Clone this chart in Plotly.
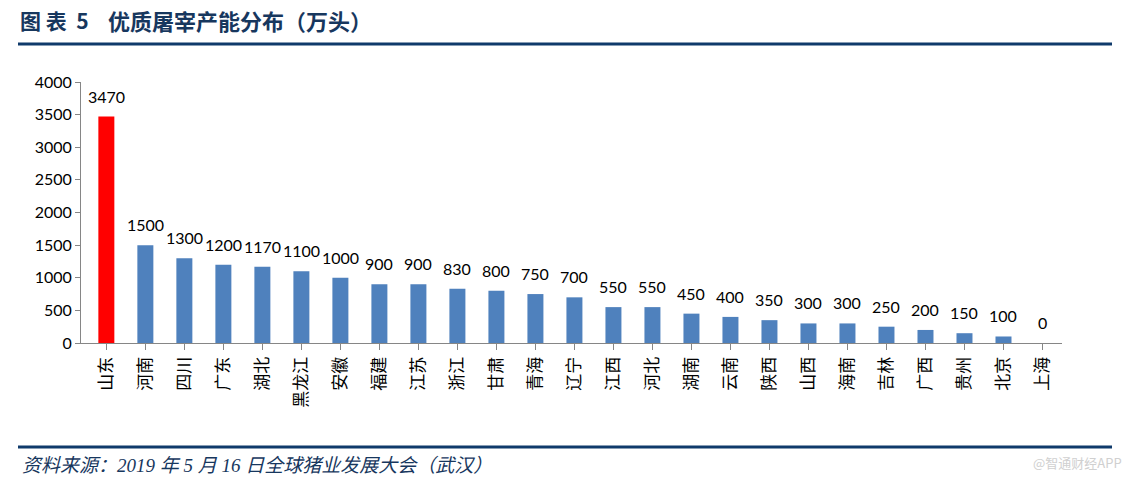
import plotly.graph_objects as go

provinces = ["山东", "河南", "四川", "广东", "湖北", "黑龙江", "安徽", "福建", "江苏", "浙江",
             "甘肃", "青海", "辽宁", "江西", "河北", "湖南", "云南", "陕西", "山西", "海南",
             "吉林", "广西", "贵州", "北京", "上海"]
capacity = [3470, 1500, 1300, 1200, 1170, 1100, 1000, 900, 900, 830,
            800, 750, 700, 550, 550, 450, 400, 350, 300, 300,
            250, 200, 150, 100, 0]
y_ticks = [0, 500, 1000, 1500, 2000, 2500, 3000, 3500, 4000]

title_prefix = "图&nbsp;表&nbsp;&nbsp;5"
title_text = "优质屠宰产能分布（万头）"
source_text = "资料来源：2019 年 5 月 16 日全球猪业发展大会（武汉）"
watermark = "@智通财经APP"

colors = ["#FF0000" if i == 0 else "#4F81BD" for i in range(len(provinces))]

L, R, T, B = 81, 1062, 82, 343
PW, PH = R - L, B - T

def px(x):
    return (x - L) / PW

def py(y):
    return (B - y) / PH

xs = list(range(len(provinces)))

fig = go.Figure()
fig.add_trace(go.Bar(
    x=xs, y=capacity,
    marker=dict(color=colors, line=dict(width=0)),
    cliponaxis=False,
))

for xi, v in zip(xs, capacity):
    fig.add_annotation(
        x=xi, y=v, xref="x", yref="y", text=str(v), showarrow=False,
        xanchor="center", yanchor="bottom", yshift=9,
        font=dict(family="Lato, Open Sans, sans-serif", size=16, color="#000000"),
    )

fig.update_layout(
    width=1133, height=481,
    margin=dict(l=L, r=1133 - R, t=T, b=481 - B),
    paper_bgcolor="white", plot_bgcolor="white",
    bargap=0.59, showlegend=False,
    font=dict(family="Lato, Noto Sans CJK SC, sans-serif", color="#000000"),
    xaxis=dict(
        range=[-0.65, 24.5], automargin=False,
        tickmode="array", tickvals=xs, ticktext=provinces,
        tickangle=-90, tickson="boundaries",
        tickfont=dict(family="Noto Sans CJK SC", size=17, color="#000000"),
        showline=True, linecolor="#868686", linewidth=1,
        ticks="outside", ticklen=6, tickcolor="#868686",
        showgrid=False, zeroline=False,
    ),
    yaxis=dict(
        range=[0, 4000], tickvals=y_ticks, automargin=False,
        tickfont=dict(family="Lato, Open Sans, sans-serif", size=16, color="#000000"),
        showline=True, linecolor="#868686", linewidth=1,
        ticks="outside", ticklen=5, tickcolor="#868686",
        showgrid=False, zeroline=False,
    ),
)

fig.add_annotation(
    text="<b>" + title_prefix + "</b>", xref="paper", yref="paper",
    x=px(18), y=py(20), xanchor="left", yanchor="middle",
    showarrow=False,
    font=dict(family="Noto Sans CJK SC", size=21, color="#17375E"),
)
fig.add_annotation(
    text="<b>" + title_text + "</b>", xref="paper", yref="paper",
    x=px(106), y=py(20), xanchor="left", yanchor="middle",
    showarrow=False,
    font=dict(family="Noto Sans CJK SC", size=22, color="#17375E"),
)
for yy in (44, 447):
    fig.add_shape(type="line", xref="paper", yref="paper",
                  x0=px(18), x1=px(1112), y0=py(yy), y1=py(yy),
                  line=dict(color="#0F3A6B", width=3))
fig.add_annotation(
    text="<i>" + source_text + "</i>", xref="paper", yref="paper",
    x=px(20), y=py(465), xanchor="left", yanchor="middle",
    showarrow=False,
    font=dict(family="Liberation Serif, Noto Sans CJK SC", size=19, color="#17375E"),
)
fig.add_annotation(
    text=watermark, xref="paper", yref="paper",
    x=px(1124), y=py(463), xanchor="right", yanchor="middle",
    showarrow=False,
    font=dict(family="Noto Sans CJK SC", size=13, color="#D0D0D0"),
)

fig.write_html("out.html", config={"displayModeBar": False},
               post_script="document.body.style.margin='0';")
